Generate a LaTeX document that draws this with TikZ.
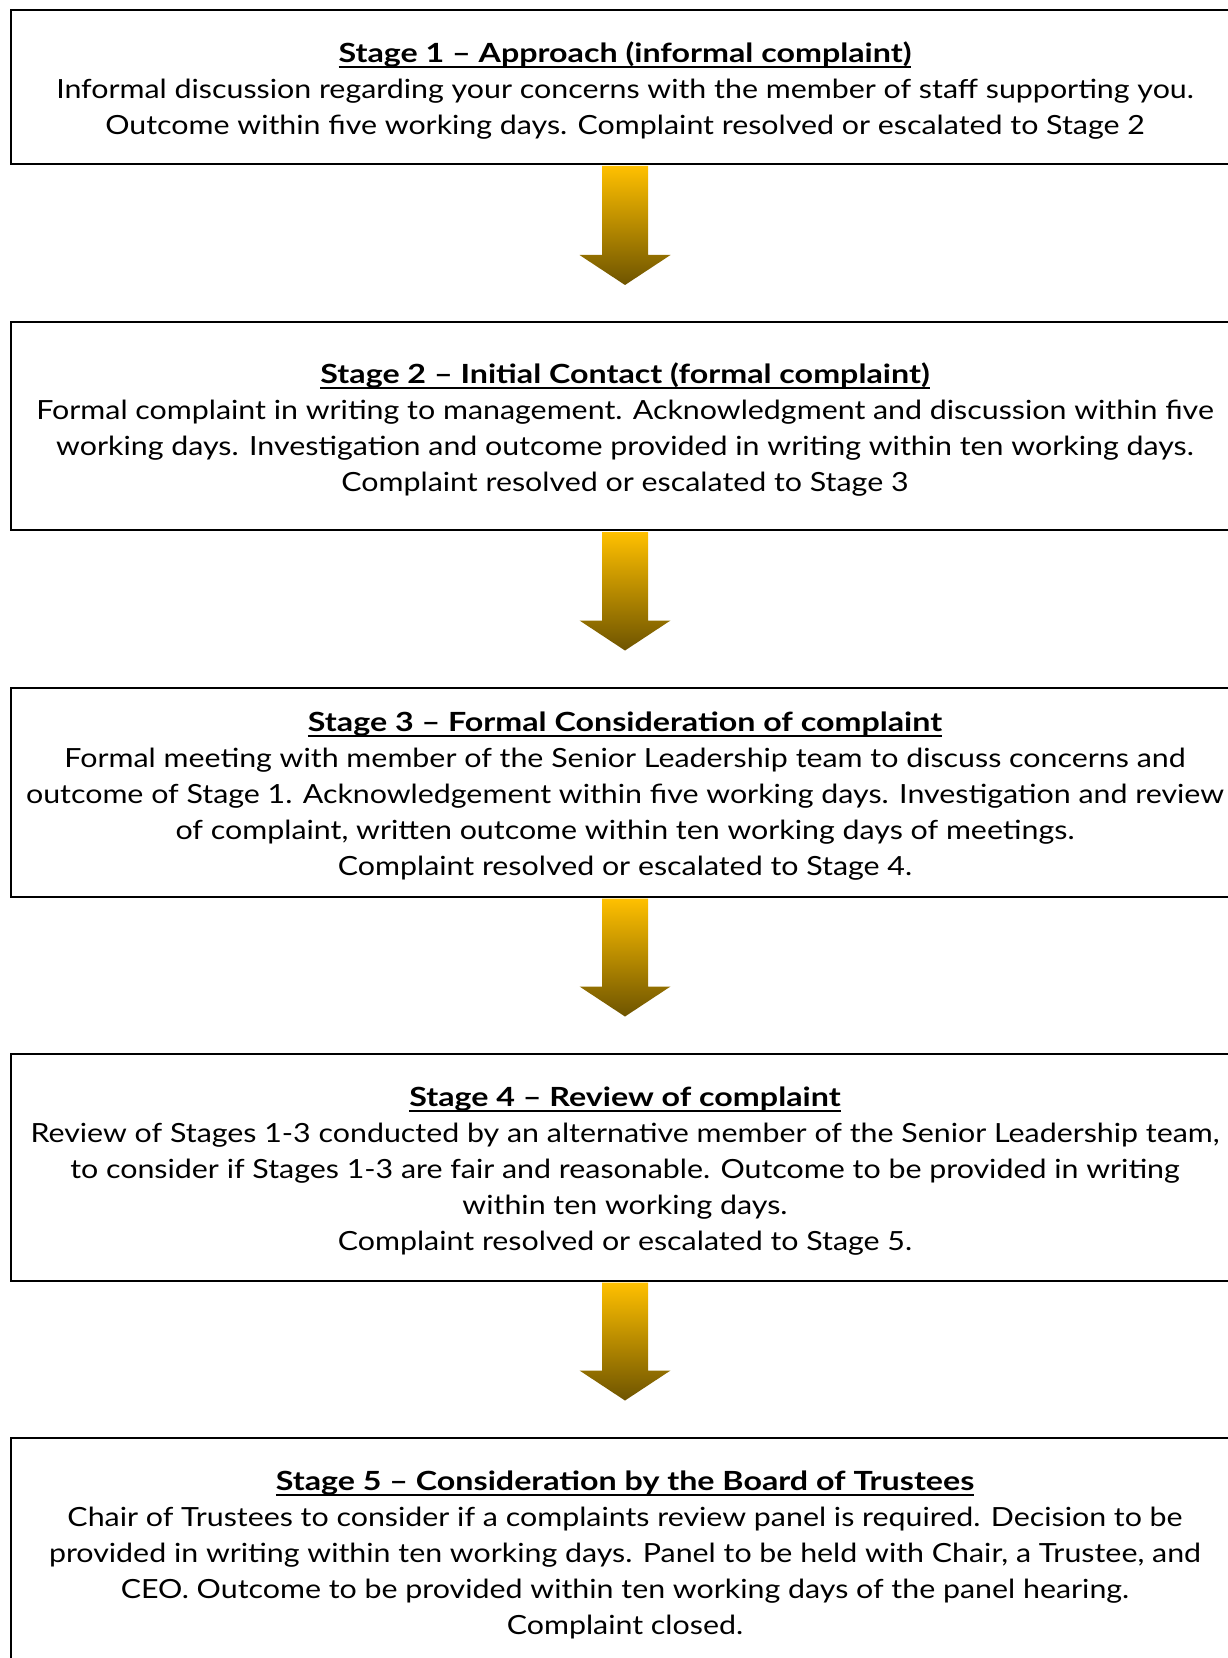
\documentclass[tikz,border=0pt]{standalone}
\usepackage{fontspec}
\setmainfont{Lato}[FakeStretch=1.15, BoldFeatures={FakeStretch=1.22}]
\usetikzlibrary{calc}
\definecolor{arrowtop}{HTML}{FFC000}
\definecolor{arrowbot}{HTML}{6E5400}
\newcommand{\stagehead}[1]{\setbox0\hbox{\bfseries #1}\rlap{\rule[-2.6pt]{\wd0}{0.9pt}}\box0}
\newcommand{\stagearrow}[2]{%
  \shade[top color=arrowtop, bottom color=arrowbot]
    ($(#1.south)+(-23,1)$) -- ($(#2.north)+(-23,-66)$) -- ($(#2.north)+(-45.5,-66)$)
    -- ($(#2.north)+(0,-36)$) -- ($(#2.north)+(45.5,-66)$) -- ($(#2.north)+(23,-66)$)
    -- ($(#1.south)+(23,1)$) -- cycle;}
\begin{document}
\begin{tikzpicture}[x=0.5pt, y=-0.5pt,
  stagebox/.style={draw, line width=1pt, minimum width=614pt, inner sep=0pt},
  stagetext/.style={align=center, inner sep=0pt, font=\fontsize{13.2}{18}\selectfont}]
\useasboundingbox (0,0) rectangle (1227,1658);
% boxes
\node[stagebox, minimum height=77pt] (s1) at (625,87) {};
\node[stagebox, minimum height=104pt] (s2) at (625,426) {};
\node[stagebox, minimum height=104.5pt] (s3) at (625,792) {};
\node[stagebox, minimum height=113.5pt] (s4) at (625,1167) {};
\node[stagebox, minimum height=113.5pt] (s5) at (625,1551) {};

% texts
\node[stagetext] (t1) at ([yshift=-2pt]s1.center) {\stagehead{Stage 1 – Approach (informal complaint)}\\
Informal discussion regarding your concerns with the member of staff supporting you.\\
Outcome within five working days. Complaint resolved or escalated to Stage 2};
\node[stagetext] (t2) at ([yshift=-2pt]s2.center) {\stagehead{Stage 2 – Initial Contact (formal complaint)}\\
Formal complaint in writing to management. Acknowledgment and discussion within five\\
working days. Investigation and outcome provided in writing within ten working days.\\
Complaint resolved or escalated to Stage 3};
\node[stagetext] (t3) at ([yshift=-2pt]s3.center) {\stagehead{Stage 3 – Formal Consideration of complaint}\\
Formal meeting with member of the Senior Leadership team to discuss concerns and\\
outcome of Stage 1. Acknowledgement within five working days. Investigation and review\\
of complaint, written outcome within ten working days of meetings.\\
Complaint resolved or escalated to Stage 4.};
\node[stagetext] (t4) at ([yshift=-2pt]s4.center) {\stagehead{Stage 4 – Review of complaint}\\
Review of Stages 1-3 conducted by an alternative member of the Senior Leadership team,\\
to consider if Stages 1-3 are fair and reasonable. Outcome to be provided in writing\\
within ten working days.\\
Complaint resolved or escalated to Stage 5.};
\node[stagetext] (t5) at ([yshift=-2pt]s5.center) {\stagehead{Stage 5 – Consideration by the Board of Trustees}\\
Chair of Trustees to consider if a complaints review panel is required. Decision to be\\
provided in writing within ten working days. Panel to be held with Chair, a Trustee, and\\
CEO. Outcome to be provided within ten working days of the panel hearing.\\
Complaint closed.};

% arrows between stages
\stagearrow{s1}{s2}
\stagearrow{s2}{s3}
\stagearrow{s3}{s4}
\stagearrow{s4}{s5}
\end{tikzpicture}
\end{document}
